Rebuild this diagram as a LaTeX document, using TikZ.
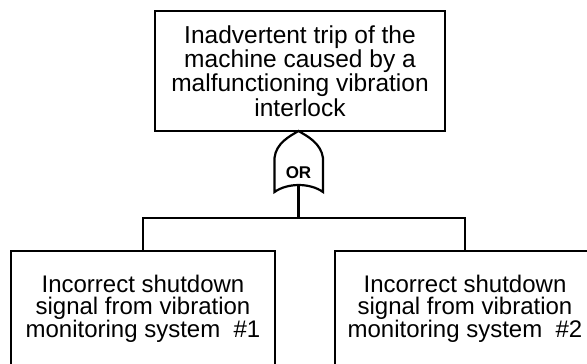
\documentclass[tikz,border=0pt]{standalone}
\usepackage{fontspec}
\setmainfont{Liberation Sans}
\begin{document}
\begin{tikzpicture}[x=1pt, y=-1pt,
  line width=2.2pt,
  event/.style={draw=black, fill=white, inner sep=0pt, outer sep=0pt,
    align=center, font=\fontsize{24.5}{24.2}\selectfont},
  basic/.style={event, font=\fontsize{24}{21.8}\selectfont},
  gatelabel/.style={inner sep=0pt, font=\fontsize{17}{17}\bfseries\selectfont}]
  \useasboundingbox (0,0) rectangle (587,364);
  \clip (0,0) rectangle (587,364);

  % top event
  \node[event, minimum width=290pt, minimum height=120pt] (top) at (300,71)
    {Inadvertent trip of the\\machine caused by a\\malfunctioning vibration\\interlock};

  % OR gate hanging below the top event
  \draw[fill=white] (274.5,192) -- (274.5,158)
    .. controls (276,143) and (290,136) .. (298.5,131)
    .. controls (307,136) and (321,143) .. (323,158)
    -- (323,192)
    .. controls (310,182.7) and (287.5,182.7) .. (274.5,192) -- cycle;
  \node[gatelabel] (gate) at (298.5,173) {OR};
  \coordinate (gateout) at (298.5,185);
  \coordinate (bar) at (298.5,218);

  % basic events
  \node[basic, minimum width=264pt, minimum height=116pt] (left) at (143,309)
    {Incorrect shutdown\\signal from vibration\\monitoring system~ \#1};
  \node[basic, minimum width=260pt, minimum height=116pt] (right) at (465,309)
    {Incorrect shutdown\\signal from vibration\\monitoring system~ \#2};

  % connectors
  \draw (gateout) -- (bar);
  \draw (left.north) -- (left.north |- bar) -- (right.north |- bar) -- (right.north);
\end{tikzpicture}
\end{document}
